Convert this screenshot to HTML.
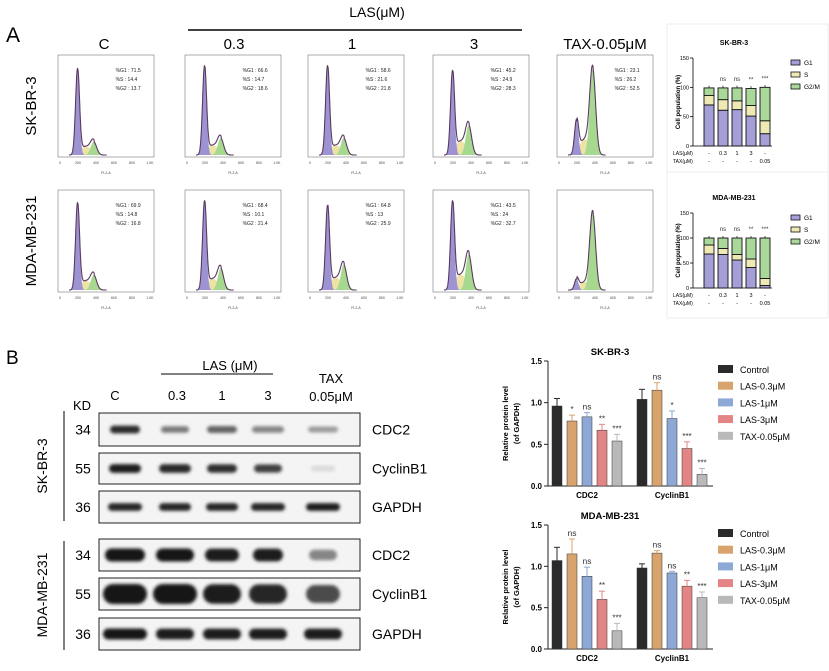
<!DOCTYPE html>
<html><head><meta charset="utf-8"><style>
html,body{margin:0;padding:0;background:#fff;}
svg{display:block;font-family:"Liberation Sans",Arial,sans-serif;}
</style></head><body>
<svg id="fig" width="829" height="671" viewBox="0 0 829 671" xmlns="http://www.w3.org/2000/svg">
<defs><filter id="blur" x="-20%" y="-50%" width="140%" height="200%"><feGaussianBlur stdDeviation="1.6"/></filter></defs>
<rect width="829" height="671" fill="#fff"/>
<text x="6" y="42" font-size="21">A</text>
<text x="6" y="364" font-size="19">B</text>
<text x="377" y="17" font-size="14" text-anchor="middle">LAS(μM)</text>
<line x1="188" y1="30" x2="522" y2="30" stroke="#000" stroke-width="1.5"/>
<g font-size="15" text-anchor="middle">
<text x="104" y="49">C</text><text x="234" y="49">0.3</text><text x="352" y="49">1</text><text x="474" y="49">3</text><text x="605" y="49">TAX-0.05μM</text>
</g>
<text font-size="15" text-anchor="middle" transform="translate(36,106) rotate(-90)">SK-BR-3</text>
<text font-size="15" text-anchor="middle" transform="translate(36,241) rotate(-90)">MDA-MB-231</text>
<g id="hists"></g>
<rect x="667" y="24" width="161" height="294" fill="none" stroke="#eee"/>
<line x1="667" y1="172" x2="828" y2="172" stroke="#eee"/>
<g id="stack"></g>
<g id="blot"></g>
<g id="bars"></g>
</svg>
<script>
const NS="http://www.w3.org/2000/svg";
function mk(p,t,a,txt){const e=document.createElementNS(NS,t);for(const k in a)e.setAttribute(k,a[k]);if(txt!==undefined)e.textContent=txt;p.appendChild(e);return e;}

/* ---------- Flow histograms ---------- */
const histG1=[[71.5,66.6,58.6,45.2,23.1],[69.9,68.4,64.8,43.5,6.77]];
const histS=[[14.4,14.7,21.6,24.9,26.2],[14.8,10.1,13.0,24.0,17.9]];
const histG2=[[13.7,18.6,21.8,28.3,52.5],[16.8,21.4,25.9,32.7,74.4]];
const g1Peak=[[0.92,0.95,0.95,0.9,0.38],[0.93,0.95,0.9,0.95,0.12]];
const g2Peak=[[0.14,0.18,0.18,0.32,0.92],[0.16,0.23,0.27,0.38,0.82]];
const panelX=[58,185,308,433,557], panelY=[55,190];
const H=document.getElementById('hists');
for(let r=0;r<2;r++)for(let c=0;c<5;c++){
  const x0=panelX[c],y0=panelY[r],w=96,h=102;
  const g=mk(H,'g',{});
  
  
  mk(g,'rect',{x:x0,y:y0,width:w,height:h,fill:'#fff',stroke:'#777','stroke-width':0.6});
  const px=v=>x0+2+v/1024*(w-4), py=f=>y0+h-2-f*(h-8);
  const a1=g1Peak[r][c],a2=g2Peak[r][c],sl=Math.min(a1,a2)*0.35+0.03;
  const G=(v,m,s)=>Math.exp(-((v-m)*(v-m))/(2*s*s));
  const f1=v=>a1*G(v,195,22), f2=v=>a2*G(v,375,32);
  const fs=v=>(v>200&&v<380)?sl*Math.sin(Math.PI*(v-195)/185)*0.9+0.02:0;
  function area(fn,col){let d='M'+px(100)+','+py(0);for(let v=100;v<=520;v+=4)d+=' L'+px(v).toFixed(1)+','+py(fn(v)).toFixed(1);d+=' L'+px(520)+','+py(0)+'Z';mk(g,'path',{d:d,fill:col,stroke:'none'});}
  area(fs,'#ece3a4');area(f2,'#a6d88f');area(f1,'#9d93d3');
  let d='';for(let v=100;v<=520;v+=3){const y=py(f1(v)+f2(v)+fs(v));d+=(d?' L':'M')+px(v).toFixed(1)+','+y.toFixed(1);}
  mk(g,'path',{d:d,fill:'none',stroke:'#5a3a60','stroke-width':1.1});
  for(let t=0;t<=5;t++){mk(g,'text',{x:px(t*200),y:y0+h+7,'font-size':3.5,'text-anchor':'middle',fill:'#444'},t==5?'1.0K':String(t*200));}
  mk(g,'text',{x:x0+w/2,y:y0+h+17,'font-size':3.5,'text-anchor':'middle',fill:'#444'},'FL2-A');
  if(!(r==1&&c==4)){
    const lab=['%G1','%S','%G2'],vals=[histG1[r][c],histS[r][c],histG2[r][c]];
    for(let i=0;i<3;i++)mk(g,'text',{x:x0+w*0.6,y:y0+17+i*9,'font-size':5,fill:'#222'},lab[i]+' : '+vals[i]);
  }
}

/* ---------- Stacked cell-cycle bars ---------- */
const stackCats=['-','0.3','1','3','-'];
const taxVals=['-','-','-','-','0.05'];
const stackG1=[[70,61,62,51,21],[68,67,56,41,5]];
const stackS=[[16,18,15,18,22],[18,12,11,17,14]];
const stackG2=[[13,20,22,29,57],[14,21,33,42,81]];
const stackSig=[['','ns','ns','**','***'],['','ns','ns','**','***']];
const stackTitles=['SK-BR-3','MDA-MB-231'];
const S=document.getElementById('stack');
const stackTop=[58,213],stackBot=[146,288];
for(let k=0;k<2;k++){
  const g=mk(S,'g',{});
  
  
  const y=v=>stackBot[k]-v/150*(stackBot[k]-stackTop[k]);
  mk(g,'text',{x:734,y:stackTop[k]-13,'font-size':7,'font-weight':'bold','text-anchor':'middle'},stackTitles[k]);
  mk(g,'line',{x1:693,y1:y(0),x2:693,y2:y(150),stroke:'#000','stroke-width':0.8});
  mk(g,'line',{x1:693,y1:y(0),x2:772,y2:y(0),stroke:'#000','stroke-width':0.8});
  [0,50,100,150].forEach(t=>{mk(g,'line',{x1:690,y1:y(t),x2:693,y2:y(t),stroke:'#000','stroke-width':0.8});mk(g,'text',{x:689,y:y(t)+2,'font-size':5.5,'text-anchor':'end'},String(t));});
  mk(g,'text',{'font-size':6,'font-weight':'bold','text-anchor':'middle',transform:'translate(680,'+((stackTop[k]+stackBot[k])/2)+') rotate(-90)'},'Cell population (%)');
  for(let i=0;i<5;i++){
    const cx=709+i*14,bw=10;
    const a=stackG1[k][i],b=a+stackS[k][i],c=b+stackG2[k][i];
    const segs=[[0,a,'#a59fd8'],[a,b,'#efe9b6'],[b,c,'#a9d89a']];
    segs.forEach(s=>{const rr=mk(g,'rect',{x:cx-bw/2,y:y(s[1]),width:bw,height:y(s[0])-y(s[1]),fill:s[2],stroke:'#111','stroke-width':0.9});});
    mk(g,'line',{x1:cx,y1:y(c),x2:cx,y2:y(c+4),stroke:'#111','stroke-width':0.7});
    mk(g,'text',{x:cx,y:y(c)-7,'font-size':6,'text-anchor':'middle',fill:'#333'},stackSig[k][i]);
    mk(g,'text',{x:cx,y:stackBot[k]+9,'font-size':5.5,'text-anchor':'middle'},stackCats[i]);
    mk(g,'text',{x:cx,y:stackBot[k]+17,'font-size':5.5,'text-anchor':'middle'},taxVals[i]);
  }
  mk(g,'text',{x:673,y:stackBot[k]+9,'font-size':5},'LAS(μM)');
  mk(g,'text',{x:673,y:stackBot[k]+17,'font-size':5},'TAX(μM)');
  const lc=['#a59fd8','#efe9b6','#a9d89a'],ln=['G1','S','G2/M'];
  for(let i=0;i<3;i++){const ly=stackTop[k]+5+i*12;mk(g,'rect',{x:791,y:ly-3,width:9,height:5,fill:lc[i],stroke:'#111','stroke-width':0.8});mk(g,'text',{x:804,y:ly+2,'font-size':6.5},ln[i]);}
}

/* ---------- Western blot ---------- */
const laneLabels=['C','0.3','1','3'];
const lanes=[125,175,222,268,323];
const blotRows=[
 {y:413,h:33,mw:'34',p:'CDC2',b:[0.9,0.55,0.65,0.5,0.4],bh:8,w:[30,28,30,32,30]},
 {y:453,h:31,mw:'55',p:'CyclinB1',b:[0.95,0.9,0.88,0.8,0.12],bh:9,w:[32,32,30,28,24]},
 {y:491,h:32,mw:'36',p:'GAPDH',b:[0.92,0.92,0.92,0.92,0.95],bh:8,w:[34,32,32,34,34]},
 {y:539,h:32,mw:'34',p:'CDC2',b:[1,1,0.97,0.95,0.5],bh:13,w:[40,38,34,30,28]},
 {y:578,h:32,mw:'55',p:'CyclinB1',b:[1,1,0.95,0.92,0.75],bh:20,w:[44,44,38,38,34]},
 {y:618,h:32,mw:'36',p:'GAPDH',b:[1,0.97,0.97,0.97,0.97],bh:11,w:[44,38,38,38,38]}];
const B=document.getElementById('blot');
mk(B,'text',{x:230,y:370,'font-size':13,'text-anchor':'middle'},'LAS (μM)');
mk(B,'line',{x1:161,y1:374,x2:273,y2:374,stroke:'#000','stroke-width':1});
mk(B,'text',{x:73,y:410,'font-size':13},'KD');
[115,177,222,268].forEach((x,i)=>mk(B,'text',{x:x,y:400,'font-size':13,'text-anchor':'middle'},laneLabels[i]));
mk(B,'text',{x:331,y:383,'font-size':13,'text-anchor':'middle'},'TAX');
mk(B,'text',{x:331,y:401,'font-size':13,'text-anchor':'middle'},'0.05μM');
mk(B,'line',{x1:64,y1:411,x2:64,y2:521,stroke:'#000','stroke-width':1});
mk(B,'line',{x1:64,y1:541,x2:64,y2:650,stroke:'#000','stroke-width':1});
mk(B,'text',{'font-size':14,'text-anchor':'middle',transform:'translate(47,466) rotate(-90)'},'SK-BR-3');
mk(B,'text',{'font-size':14,'text-anchor':'middle',transform:'translate(47,595) rotate(-90)'},'MDA-MB-231');
blotRows.forEach((r,ri)=>{
  const g=mk(B,'g',{});
  
  
  mk(g,'rect',{x:99,y:r.y,width:261,height:r.h,fill:'#f4f4f4',stroke:'#222','stroke-width':1});
  const bg=mk(g,'g',{filter:'url(#blur)'});
  r.b.forEach((v,i)=>{const sh=Math.round(245-v*225);const bh=r.bh*(0.6+0.4*v);
    mk(bg,'rect',{x:lanes[i]-r.w[i]/2,y:r.y+r.h/2-bh/2,width:r.w[i],height:bh,rx:bh/2,fill:'rgb('+sh+','+sh+','+sh+')'});});
  mk(g,'text',{x:83,y:r.y+r.h/2+5,'font-size':14,'text-anchor':'middle'},r.mw);
  mk(g,'text',{x:372,y:r.y+r.h/2+5,'font-size':14},r.p);
});

/* ---------- Protein bar charts ---------- */
const groupCats=['CDC2','CyclinB1'];
const seriesNames=['Control','LAS-0.3μM','LAS-1μM','LAS-3μM','TAX-0.05μM'];
const seriesColors=['#2b2b2b','#d8a36c','#8ea8d6','#e38585','#b9b9b9'];
const sk_vals=[[0.96,0.78,0.83,0.67,0.54],[1.04,1.15,0.81,0.45,0.14]];
const sk_err=[[0.09,0.07,0.05,0.07,0.08],[0.12,0.09,0.09,0.08,0.07]];
const sk_sig=[['','*','ns','**','***'],['','ns','*','***','***']];
const mda_vals=[[1.07,1.15,0.88,0.60,0.22],[0.98,1.16,0.92,0.76,0.62]];
const mda_err=[[0.16,0.18,0.11,0.10,0.09],[0.05,0.03,0.02,0.07,0.07]];
const mda_sig=[['','ns','ns','**','***'],['','ns','ns','**','***']];
const yTicks=['0.0','0.5','1.0','1.5'];
const BR=document.getElementById('bars');
function barChart(title,vals,err,sig,top,bot,legTop){
  const g=mk(BR,'g',{});
  
  
  const y=v=>bot-v/1.5*(bot-top);
  mk(g,'text',{x:610,y:top-6,'font-size':9.5,'font-weight':'bold','text-anchor':'middle'},title);
  mk(g,'line',{x1:548,y1:y(0),x2:548,y2:y(1.5),stroke:'#222','stroke-width':1});
  mk(g,'line',{x1:548,y1:y(0),x2:713,y2:y(0),stroke:'#222','stroke-width':1});
  yTicks.forEach(t=>{const v=parseFloat(t);mk(g,'line',{x1:544,y1:y(v),x2:548,y2:y(v),stroke:'#222'});mk(g,'text',{x:542,y:y(v)+3,'font-size':8,'font-weight':'bold','text-anchor':'end'},t);});
  mk(g,'text',{'font-size':7.5,'font-weight':'bold','text-anchor':'middle',transform:'translate(508,'+((top+bot)/2)+') rotate(-90)'},'Relative protein level');
  mk(g,'text',{'font-size':7.5,'font-weight':'bold','text-anchor':'middle',transform:'translate(519,'+((top+bot)/2)+') rotate(-90)'},'(of GAPDH)');
  for(let gi=0;gi<2;gi++){
    const gx=552+gi*85;
    for(let i=0;i<5;i++){
      const x=gx+i*15,v=vals[gi][i],e=err[gi][i];
      const r=mk(g,'rect',{x:x,y:y(v),width:10,height:y(0)-y(v),fill:seriesColors[i],stroke:'#333','stroke-width':0.5});
      
      
      mk(g,'line',{x1:x+5,y1:y(v),x2:x+5,y2:y(v+e),stroke:seriesColors[i],'stroke-width':1});
      mk(g,'line',{x1:x+2,y1:y(v+e),x2:x+8,y2:y(v+e),stroke:seriesColors[i],'stroke-width':1});
      mk(g,'text',{x:x+5,y:y(v+e)-3,'font-size':sig[gi][i]=='ns'?8.5:8,'text-anchor':'middle',fill:'#333'},sig[gi][i]);
    }
    mk(g,'text',{x:gx+35,y:bot+12,'font-size':8,'font-weight':'bold','text-anchor':'middle'},groupCats[gi]);
  }
  seriesNames.forEach((n,i)=>{const ly=legTop+i*16.7;mk(g,'rect',{x:718,y:ly-4,width:15,height:8,fill:seriesColors[i]});mk(g,'text',{x:740,y:ly+4,'font-size':9},n);});
}
barChart('SK-BR-3',sk_vals,sk_err,sk_sig,361,486,369);
barChart('MDA-MB-231',mda_vals,mda_err,mda_sig,525,649,533);
</script>
</body></html>
